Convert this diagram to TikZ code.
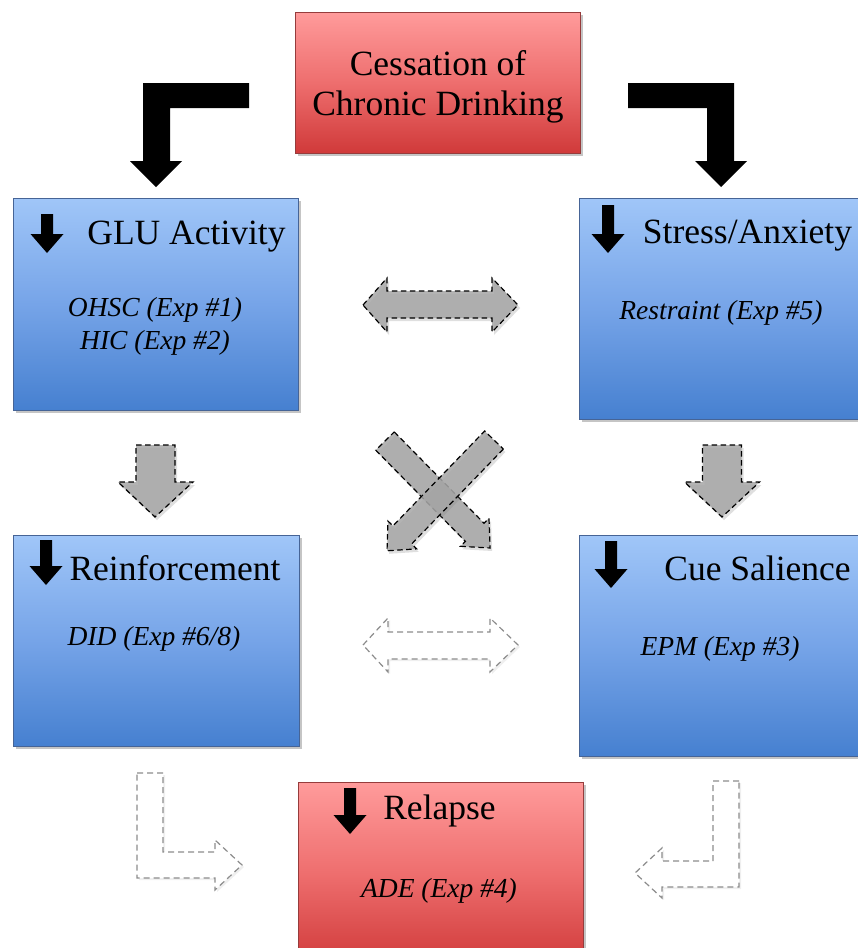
\documentclass[tikz,border=0pt]{standalone}
\usepackage{fontspec}
\setmainfont{Liberation Serif}
\usetikzlibrary{shadows}

\definecolor{bluetop}{RGB}{160,198,248}
\definecolor{bluemid}{RGB}{118,164,232}
\definecolor{bluebot}{RGB}{70,128,208}
\definecolor{blueline}{RGB}{70,100,150}
\definecolor{redtop}{RGB}{255,155,155}
\definecolor{redmid}{RGB}{238,110,110}
\definecolor{redbot}{RGB}{208,58,58}
\definecolor{redline}{RGB}{150,60,60}

% small black arrow in the box headers: centre x, top, tip
\newcommand{\blkdown}[3]{%
  \fill (#1-6,#2) -- (#1+6,#2) -- (#1+6,#3-19) -- (#1+16.5,#3-19) -- (#1,#3)
    -- (#1-16.5,#3-19) -- (#1-6,#3-19) -- cycle;}
% straight fat arrow: style, start, angle, length
\newcommand{\fatarrow}[4]{%
  \path[#1,shift={#2},rotate=#3] (0,-13) -- (#4-22,-13) -- (#4-22,-20) -- (#4,0)
    -- (#4-22,20) -- (#4-22,13) -- (0,13) -- cycle;}

\begin{document}
\begin{tikzpicture}[x=1pt,y=-1pt,
  bluebox/.style={draw=blueline,line width=0.8pt,inner sep=0pt,
    top color=bluetop,bottom color=bluebot,middle color=bluemid,
    drop shadow={shadow xshift=3pt,shadow yshift=-3pt,opacity=0.45}},
  redbox/.style={bluebox,draw=redline,
    top color=redtop,bottom color=redbot,middle color=redmid},
  headtxt/.style={font=\fontsize{35.5}{40}\selectfont,inner sep=0pt,anchor=base},
  exptxt/.style={font=\fontsize{27.5}{33}\selectfont\itshape,inner sep=0pt,anchor=base},
  grayarr/.style={fill=black!35,fill opacity=0.85,draw=black,line width=1.2pt,
    dash pattern=on 5.5pt off 3.5pt,
    drop shadow={shadow xshift=2pt,shadow yshift=-3pt,opacity=0.25}},
  lightarr/.style={fill=white,draw=black!45,line width=1.2pt,
    dash pattern=on 6pt off 4pt,
    drop shadow={shadow xshift=2pt,shadow yshift=-2pt,opacity=0.12}}]
  \useasboundingbox[fill=white] (0,0) rectangle (857,948);

  % schwarze Winkelpfeile oben
  \fill (249,83) -- (143,83) -- (143,161) -- (130,161) -- (156,187) -- (182,161)
    -- (170,161) -- (170,108) -- (249,108) -- cycle;
  \fill (628,83) -- (734,83) -- (734,161) -- (747,161) -- (721,187) -- (695,161)
    -- (707,161) -- (707,108) -- (628,108) -- cycle;

  % Kaesten
  \node[redbox,minimum width=285pt,minimum height=141pt] (cess) at (437.5,82.5) {};
  \node[bluebox,minimum width=285pt,minimum height=212pt] (glu) at (155.5,304) {};
  \node[bluebox,minimum width=296pt,minimum height=221pt] (stress) at (727,308.5) {};
  \node[bluebox,minimum width=286pt,minimum height=211pt] (reinf) at (156,640.5) {};
  \node[bluebox,minimum width=296pt,minimum height=221pt] (cue) at (727,645.5) {};
  \node[redbox,minimum width=285pt,minimum height=183pt] (relapse) at (440.5,873.5) {};

  % Texte
  \node[headtxt] (cess1) at (438,75) {Cessation of};
  \node[headtxt] (cess2) at (438,115) {Chronic Drinking};
  \node[headtxt] (glut) at (186.5,244) {GLU Activity};
  \node[exptxt] (ohsc) at (155,316) {OHSC (Exp \#1)};
  \node[exptxt] (hic) at (155,349) {HIC (Exp \#2)};
  \node[headtxt] (stresst) at (747.5,243) {Stress/Anxiety};
  \node[exptxt] (restr) at (721,319) {Restraint (Exp \#5)};
  \node[headtxt] (reinft) at (175,580) {Reinforcement};
  \node[exptxt] (did) at (154,645) {DID (Exp \#6/8)};
  \node[headtxt] (cuet) at (757.5,580) {Cue Salience};
  \node[exptxt] (epm) at (720,655) {EPM (Exp \#3)};
  \node[headtxt] (relt) at (439.5,819) {Relapse};
  \node[exptxt] (ade) at (439,897) {ADE (Exp \#4)};

  % Pfeile in den Kopfzeilen
  \blkdown{47}{214}{253}
  \blkdown{608}{205}{253}
  \blkdown{46}{540}{585}
  \blkdown{611}{541}{588}
  \blkdown{350}{788}{834}

  % graue Pfeile
  \path[grayarr] (363,305) -- (387,278) -- (387,291) -- (492,291) -- (492,278)
    -- (518,305) -- (492,332) -- (492,318) -- (387,318) -- (387,332) -- cycle;
  \path[grayarr] (136,445) -- (175,445) -- (175,482) -- (193,482) -- (155,517)
    -- (118,482) -- (136,482) -- cycle;
  \path[grayarr] (702.5,445) -- (741.5,445) -- (741.5,482) -- (759.5,482) -- (722,517)
    -- (684.5,482) -- (702.5,482) -- cycle;
  \fatarrow{grayarr}{(385,441)}{-45.5}{150}
  \fatarrow{grayarr}{(494,440)}{-134}{154}

  % helle gestrichelte Pfeile
  \path[lightarr] (363,645) -- (388,618) -- (388,632) -- (490,632) -- (490,618)
    -- (518,645) -- (490,672) -- (490,659) -- (388,659) -- (388,672) -- cycle;
  \path[lightarr] (137,773) -- (163,773) -- (163,852) -- (215,852) -- (215,840)
    -- (242,865) -- (215,890) -- (215,878) -- (137,878) -- cycle;
  \path[lightarr] (739,781) -- (713,781) -- (713,861) -- (662,861) -- (662,848)
    -- (635,873) -- (662,898) -- (662,887) -- (739,887) -- cycle;
\end{tikzpicture}
\end{document}
